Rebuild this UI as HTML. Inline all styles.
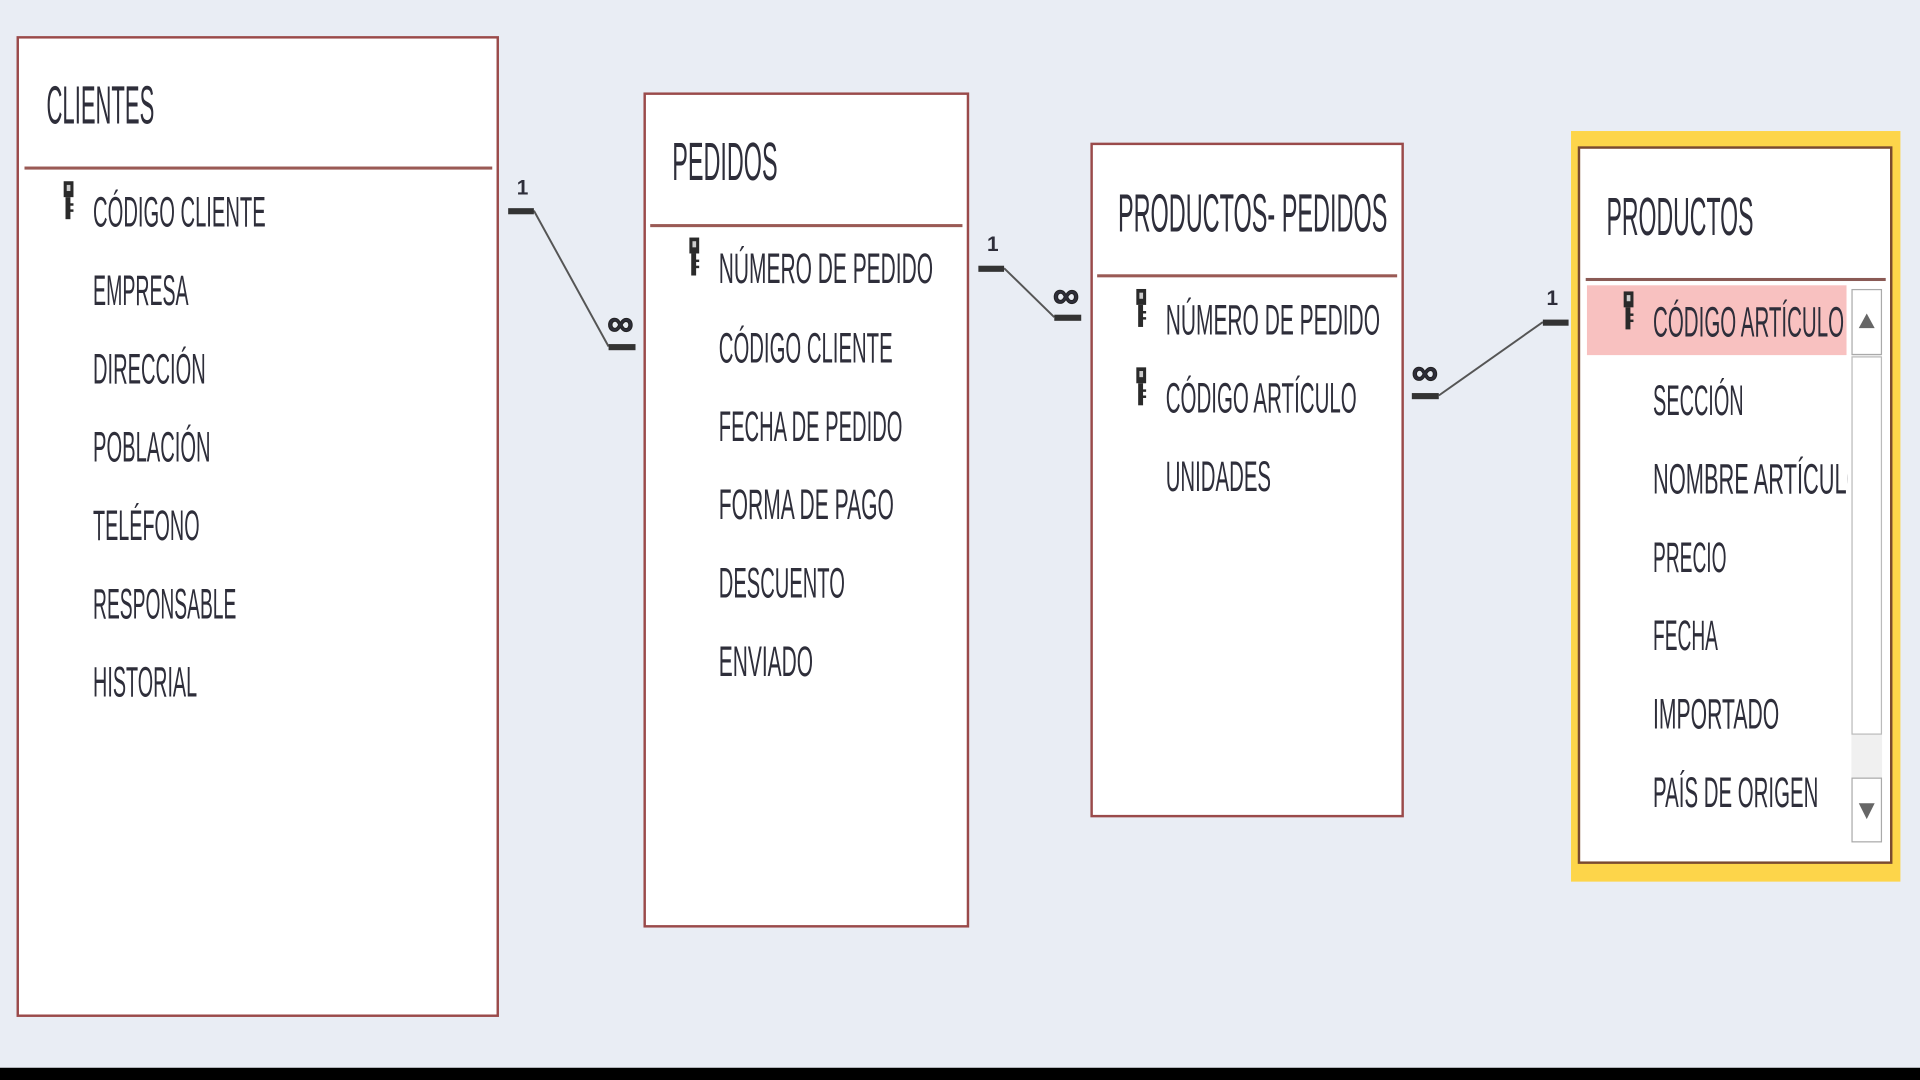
<!DOCTYPE html>
<html><head><meta charset="utf-8"><style>
html,body{margin:0;padding:0;background:#e9edf4;width:1920px;height:1080px;overflow:hidden}
svg{display:block}
text{font-family:"Liberation Sans",sans-serif;fill:#2e2e3a}
</style></head><body>
<svg width="1920" height="1080" viewBox="0 0 1568 882" preserveAspectRatio="none" xmlns="http://www.w3.org/2000/svg">
<defs>
<g id="key"><rect x="-4" y="-16" width="8" height="13" fill="#2a2a2a"/><rect x="-1.5" y="-13" width="3" height="5" fill="#ccc"/><rect x="-2.5" y="-3" width="4" height="18" fill="#2a2a2a"/><rect x="1" y="2" width="3" height="2" fill="#2a2a2a"/><rect x="1" y="7" width="3" height="2" fill="#2a2a2a"/></g>
<clipPath id="cp"><rect x="1290" y="230" width="219" height="470"/></clipPath>
</defs>
<rect x="0" y="0" width="1568" height="882" fill="#e9edf4"/>
<rect x="0" y="872" width="1568" height="10" fill="#000"/>

<!-- CLIENTES -->
<rect x="14.5" y="30.5" width="392" height="799" fill="#fff" stroke="#9a4a4a" stroke-width="2"/>
<text x="38" y="101" font-size="44" textLength="88" lengthAdjust="spacingAndGlyphs">CLIENTES</text>
<rect x="20" y="136" width="382" height="2.5" fill="#9a5a55"/>
<use href="#key" x="56" y="164"/>
<g font-size="35">
<text x="76" y="185" textLength="141" lengthAdjust="spacingAndGlyphs">CÓDIGO CLIENTE</text>
<text x="76" y="249" textLength="78" lengthAdjust="spacingAndGlyphs">EMPRESA</text>
<text x="76" y="313" textLength="92" lengthAdjust="spacingAndGlyphs">DIRECCIÓN</text>
<text x="76" y="377" textLength="96" lengthAdjust="spacingAndGlyphs">POBLACIÓN</text>
<text x="76" y="441" textLength="87" lengthAdjust="spacingAndGlyphs">TELÉFONO</text>
<text x="76" y="505" textLength="117" lengthAdjust="spacingAndGlyphs">RESPONSABLE</text>
<text x="76" y="569" textLength="85" lengthAdjust="spacingAndGlyphs">HISTORIAL</text>
</g>

<!-- PEDIDOS -->
<rect x="526.5" y="76.5" width="264" height="680" fill="#fff" stroke="#9a4a4a" stroke-width="2"/>
<text x="549" y="147" font-size="44" textLength="86" lengthAdjust="spacingAndGlyphs">PEDIDOS</text>
<rect x="531" y="183" width="255" height="2.5" fill="#9a5a55"/>
<use href="#key" x="567" y="210"/>
<g font-size="35">
<text x="587" y="231" textLength="175" lengthAdjust="spacingAndGlyphs">NÚMERO DE PEDIDO</text>
<text x="587" y="296" textLength="142" lengthAdjust="spacingAndGlyphs">CÓDIGO CLIENTE</text>
<text x="587" y="360" textLength="150" lengthAdjust="spacingAndGlyphs">FECHA DE PEDIDO</text>
<text x="587" y="424" textLength="143" lengthAdjust="spacingAndGlyphs">FORMA DE PAGO</text>
<text x="587" y="488" textLength="103" lengthAdjust="spacingAndGlyphs">DESCUENTO</text>
<text x="587" y="552" textLength="77" lengthAdjust="spacingAndGlyphs">ENVIADO</text>
</g>

<!-- PRODUCTOS- PEDIDOS -->
<rect x="891.5" y="117.5" width="254" height="549" fill="#fff" stroke="#9a4a4a" stroke-width="2"/>
<text x="913" y="189" font-size="44" textLength="220" lengthAdjust="spacingAndGlyphs">PRODUCTOS- PEDIDOS</text>
<rect x="896" y="224" width="245" height="2.5" fill="#9a5a55"/>
<use href="#key" x="932" y="252"/>
<use href="#key" x="932" y="316"/>
<g font-size="35">
<text x="952" y="273" textLength="175" lengthAdjust="spacingAndGlyphs">NÚMERO DE PEDIDO</text>
<text x="952" y="337" textLength="156" lengthAdjust="spacingAndGlyphs">CÓDIGO ARTÍCULO</text>
<text x="952" y="401" textLength="86" lengthAdjust="spacingAndGlyphs">UNIDADES</text>
</g>

<!-- PRODUCTOS -->
<rect x="1283" y="107" width="269" height="613" fill="#fdd54a"/>
<rect x="1289.5" y="120.5" width="255" height="584" fill="#fff" stroke="#7a4a30" stroke-width="2"/>
<text x="1312" y="192" font-size="44" textLength="120" lengthAdjust="spacingAndGlyphs">PRODUCTOS</text>
<rect x="1295" y="227" width="245" height="2.5" fill="#8a5a55"/>
<rect x="1296" y="233" width="212" height="57" fill="#f8c1c0"/>
<use href="#key" x="1330" y="254"/>
<g font-size="35" clip-path="url(#cp)">
<text x="1350" y="275" textLength="156" lengthAdjust="spacingAndGlyphs">CÓDIGO ARTÍCULO</text>
<text x="1350" y="339" textLength="74" lengthAdjust="spacingAndGlyphs">SECCIÓN</text>
<text x="1350" y="403" textLength="172" lengthAdjust="spacingAndGlyphs">NOMBRE ARTÍCULO</text>
<text x="1350" y="467" textLength="60" lengthAdjust="spacingAndGlyphs">PRECIO</text>
<text x="1350" y="531" textLength="53" lengthAdjust="spacingAndGlyphs">FECHA</text>
<text x="1350" y="595" textLength="103" lengthAdjust="spacingAndGlyphs">IMPORTADO</text>
<text x="1350" y="659" textLength="135" lengthAdjust="spacingAndGlyphs">PAÍS DE ORIGEN</text>
</g>
<!-- scrollbar -->
<rect x="1512" y="236" width="25" height="451" fill="#f0f0f0"/>
<rect x="1512.5" y="236.5" width="24" height="53" fill="#fff" stroke="#aaa"/>
<polygon points="1518,268 1531,268 1524.5,256" fill="#666"/>
<rect x="1512.5" y="291.5" width="24" height="308" fill="#fff" stroke="#bbb"/>
<rect x="1512.5" y="635.5" width="24" height="52" fill="#fff" stroke="#aaa"/>
<polygon points="1518,656 1531,656 1524.5,669" fill="#666"/>

<!-- connectors -->
<g stroke="#555" stroke-width="1.6" fill="none">
<line x1="436" y1="172" x2="497" y2="283"/>
<line x1="820" y1="219" x2="861" y2="259"/>
<line x1="1175" y1="323" x2="1260" y2="263"/>
</g>
<g fill="#333">
<rect x="415" y="170" width="21" height="5"/>
<rect x="497" y="281" width="22" height="5"/>
<rect x="799" y="217" width="21" height="5"/>
<rect x="861" y="257" width="22" height="5"/>
<rect x="1153" y="321" width="22" height="5"/>
<rect x="1260" y="261" width="21" height="5"/>
</g>
<g font-size="17" font-weight="bold" style="fill:#222">
<text x="422" y="159">1</text>
<text x="806" y="205">1</text>
<text x="1263" y="249">1</text>
</g>
<g font-size="30" font-weight="bold" style="fill:#222;stroke:#222;stroke-width:0.8">
<text x="496" y="274">∞</text>
<text x="860" y="251">∞</text>
<text x="1153" y="314">∞</text>
</g>
</svg>
</body></html>
